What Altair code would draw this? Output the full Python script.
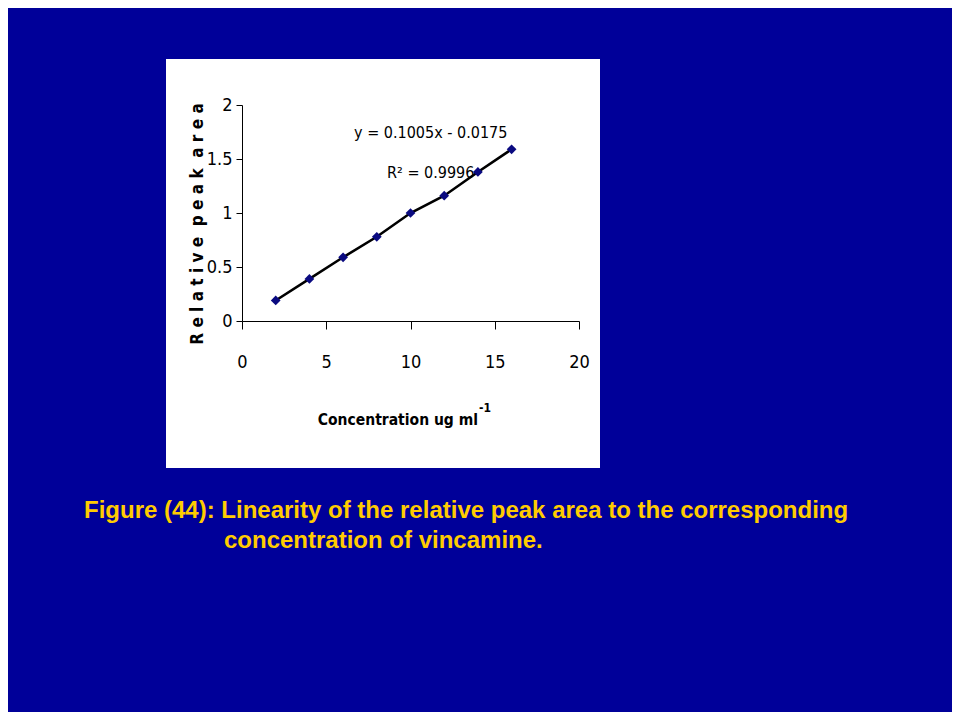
import altair as alt
import pandas as pd

# data
conc = [2, 4, 6, 8, 10, 12, 14, 16]
area = [0.19, 0.39, 0.59, 0.78, 1.00, 1.16, 1.38, 1.59]
x_ticks = [0, 5, 10, 15, 20]
y_ticks = [0, 0.5, 1, 1.5, 2]

eq_text = ["y = 0.1005x - 0.0175", "R² = 0.9996"]
eq_x = [11.2, 11.2]
eq_y = [1.69, 1.32]

caption1 = "Figure (44): Linearity of the relative peak area to the corresponding"
caption2 = "concentration of vincamine."
ytitle = "R e l a t i v e \u00a0p e a k \u00a0a r e a"
xtitle = "Concentration ug ml"

NARROW = "DejaVu Sans Condensed, Liberation Sans"

df = pd.DataFrame({"conc": conc, "area": area})
eq_df = pd.DataFrame({"t": eq_text, "x": eq_x, "y": eq_y})
one = alt.Data(values=[{"a": 1}])

xs = alt.Scale(domain=[0, 20])
ys = alt.Scale(domain=[0, 2])

box = alt.Chart(one).mark_rect(color="white").encode(
    x=alt.value(-76), x2=alt.value(358), y=alt.value(-46), y2=alt.value(363)
)

line = alt.Chart(df).mark_line(color="black", strokeWidth=2.6).encode(
    x=alt.X("conc:Q", scale=xs,
            axis=alt.Axis(values=x_ticks, title=None, grid=False, tickSize=8,
                          labelPadding=24, labelFlush=False, domainColor="black",
                          tickColor="black", labelColor="black", labelFont=NARROW,
                          labelFontSize=18, zindex=1)),
    y=alt.Y("area:Q", scale=ys,
            axis=alt.Axis(values=y_ticks, title=None, grid=False, tickSize=6,
                          labelPadding=4, labelFlush=False, format="~g",
                          domainColor="black", tickColor="black", labelColor="black",
                          labelFont=NARROW, labelFontSize=18, zindex=1)),
)

pts = alt.Chart(df).mark_point(shape="diamond", filled=True, color="#0a0a80",
                               size=95, opacity=1).encode(
    x=alt.X("conc:Q", scale=xs), y=alt.Y("area:Q", scale=ys)
)

eq = alt.Chart(eq_df).mark_text(font=NARROW, fontSize=16, color="black",
                                align="center", baseline="alphabetic").encode(
    x=alt.X("x:Q", scale=xs), y=alt.Y("y:Q", scale=ys), text="t:N"
)

def label(txt, x, y, **kw):
    return alt.Chart(one).mark_text(**kw).encode(
        x=alt.value(x), y=alt.value(y), text=alt.value(txt)
    )

yt = label(ytitle, -44, 119, angle=270, font=NARROW, fontSize=17, fontWeight="bold",
           color="black", align="center", baseline="middle")
xt = label(xtitle, 236, 320, font=NARROW, fontSize=15.5, fontWeight="bold",
           color="black", align="right", baseline="alphabetic")
xsup = label("-1", 237, 307, font=NARROW, fontSize=12, fontWeight="bold",
             color="black", align="left", baseline="alphabetic")
cap1 = label(caption1, -158, 413, font="Liberation Sans", fontSize=24, fontWeight="bold",
             color="#FFCC00", align="left", baseline="alphabetic")
cap2 = label(caption2, -18, 443, font="Liberation Sans", fontSize=24, fontWeight="bold",
             color="#FFCC00", align="left", baseline="alphabetic")

chart = alt.layer(box, line, pts, eq, yt, xt, xsup, cap1, cap2).properties(
    width=337, height=216,
    autosize=alt.AutoSizeParams(type="none"),
    padding={"left": 234, "top": 97, "right": 373, "bottom": 391},
    background="#000099",
).configure_view(stroke=None)

chart.save("out.html", embed_options={"renderer": "svg", "actions": False})
